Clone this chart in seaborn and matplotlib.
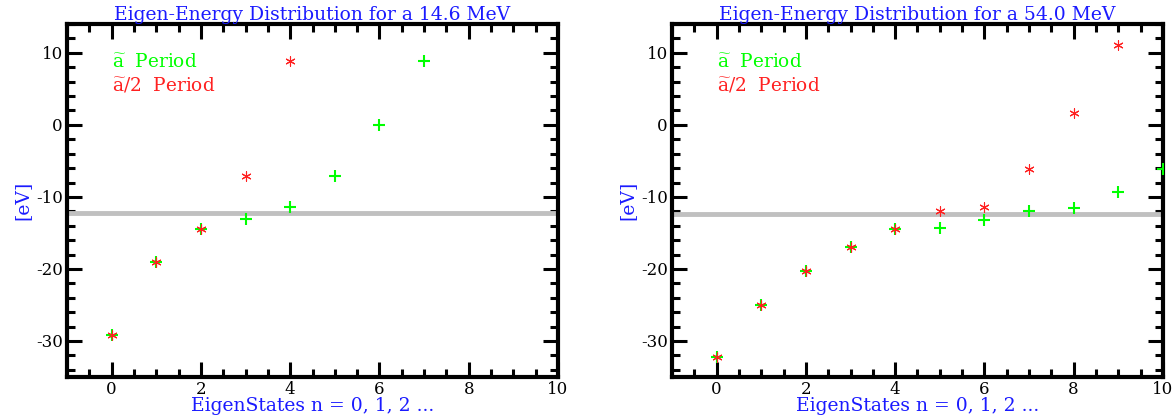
import numpy as np
import seaborn as sns
import matplotlib.pyplot as plt
from matplotlib.ticker import MultipleLocator

# energies, in eV
beam = ['14.6', '54.0']
n_a = [list(range(8)), list(range(11))]
e_a = [[-29.2, -19.0, -14.4, -13.0, -11.4, -7.1, 0.0, 8.8],
       [-32.2, -25.0, -20.3, -16.9, -14.5, -14.3, -13.2, -11.9, -11.6, -9.3, -6.1]]
n_half = [list(range(5)), list(range(10))]
e_half = [[-29.2, -19.0, -14.4, -7.1, 8.8],
          [-32.2, -25.0, -20.3, -16.9, -14.5, -11.9, -11.4, -6.1, 1.7, 11.1]]
e_ref = [-12.3, -12.4]

sns.set_style('ticks')
plt.rcParams['font.family'] = ['DejaVu Serif']
plt.rcParams['mathtext.fontset'] = 'dejavuserif'
plt.rcParams['axes.unicode_minus'] = False

fig = plt.figure(figsize=(11.76, 4.19), dpi=100)
lefts = [0.057, 0.5714]

for i in range(2):
    ax = fig.add_axes([lefts[i], 0.1002, 0.4175, 0.8425])
    ax.axhline(e_ref[i], color='#c0c0c0', lw=3.5, zorder=1)
    sns.scatterplot(x=n_a[i], y=e_a[i], marker='+', color='#00ff00', s=85,
                    linewidth=1.5, ax=ax, zorder=3)
    sns.scatterplot(x=n_half[i], y=e_half[i], marker=(6, 2, 0), color='#ff2020',
                    s=45, linewidth=0.8, ax=ax, zorder=4)
    ax.set_xlim(-1, 10)
    ax.set_ylim(-35, 14)
    ax.xaxis.set_major_locator(MultipleLocator(2))
    ax.xaxis.set_minor_locator(MultipleLocator(0.5))
    ax.yaxis.set_major_locator(MultipleLocator(10))
    ax.yaxis.set_minor_locator(MultipleLocator(2))
    ax.tick_params(which='both', direction='in', top=True, right=True,
                   width=2.2, colors='black', labelsize=12, pad=3)
    ax.tick_params(which='major', length=11)
    ax.tick_params(which='minor', length=6)
    for s in ax.spines.values():
        s.set_linewidth(3)
        s.set_color('black')
    ax.set_title('Eigen-Energy Distribution for a %s MeV' % beam[i],
                 color='#1a1aff', fontsize=13.5, pad=2)
    ax.set_xlabel('EigenStates n = 0, 1, 2 ...', color='#1a1aff', fontsize=13.5, labelpad=-1)
    ax.set_ylabel('[eV]', color='#1a1aff', fontsize=13.5, labelpad=3)
    ax.text(0.092, 0.892, r'$\widetilde{\mathrm{a}}$  Period', transform=ax.transAxes,
            color='#00ff00', fontsize=13.3, va='center')
    ax.text(0.092, 0.827, r'$\widetilde{\mathrm{a}}$/2  Period', transform=ax.transAxes,
            color='#ff2020', fontsize=13.3, va='center')

fig.savefig('out.png', dpi=100)
